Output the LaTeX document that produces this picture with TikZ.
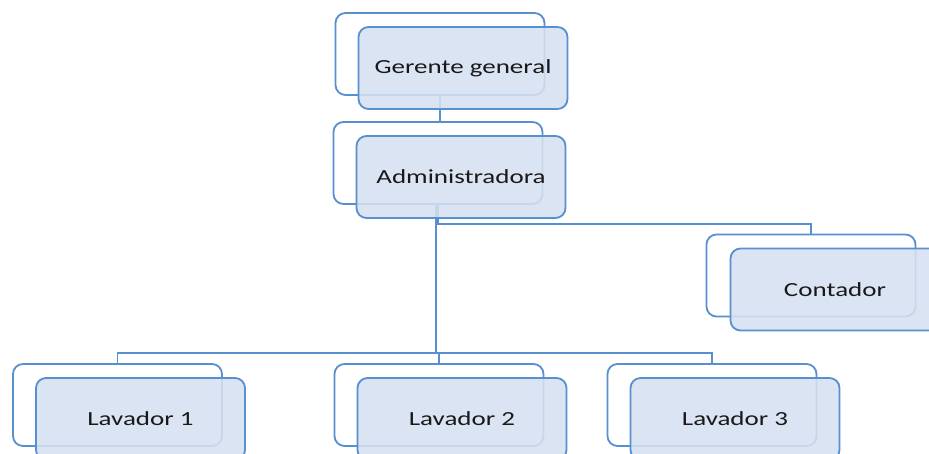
\documentclass[tikz,border=0pt]{standalone}
\usepackage{fontspec}
\setmainfont{Carlito}
\usetikzlibrary{calc}
\usetikzlibrary{positioning}

\definecolor{borde}{RGB}{88,143,206}
\definecolor{relleno}{RGB}{214,224,240}
\newcommand{\ancho}[1]{\scalebox{1.35}[1]{#1}}

\begin{document}
\begin{tikzpicture}[x=1pt, y=-1pt,
  fondo/.style = {draw=borde, line width=1.8pt, rounded corners=10pt,
    minimum width=209pt, minimum height=82pt, inner sep=0pt},
  cargo/.style = {fondo, fill=relleno, fill opacity=0.88, text opacity=1,
    text=black!90, font=\fontsize{20}{24}\selectfont},
  linea/.style = {draw=borde, line width=1.8pt}]

  % Margenes del dibujo
  \useasboundingbox (0,0) rectangle (929,454);
  \clip (0,0) rectangle (929,454);

  % Recuadros de fondo
  \node[fondo] (gerb) at (440,54) {};
  \node[fondo] (admb) at (438,163) {};
  \node[fondo] (contb) at (811,275.5) {};
  \node[fondo] (lav1b) at (117.5,405) {};
  \node[fondo] (lav2b) at (439,405) {};
  \node[fondo] (lav3b) at (712,405) {};

  % Conexiones
  \draw[linea] (gerb.south) -- (gerb.south |- admb.north);
  \draw[linea] (admb.south) -- ++(0,19) -| (contb.north);
  \draw[linea] ([xshift=-2pt]admb.south) -- ++(0,148) -| (lav1b.north);
  \draw[linea] ([xshift=-2pt]admb.south) -- ++(0,148) -| (lav2b.north);
  \draw[linea] ([xshift=-2pt]admb.south) -- ++(0,148) -| (lav3b.north);

  % Recuadros con los cargos
  \node[cargo] (gerente) at ($(gerb)+(23,14)$) {\ancho{Gerente general}};
  \node[cargo] (admin) at ($(admb)+(23,14)$) {\ancho{Administradora}};
  \node[cargo] (contador) at ($(contb)+(24,14)$) {\ancho{Contador}};
  \node[cargo] (lav1) at ($(lav1b)+(23,14)$) {\ancho{Lavador 1}};
  \node[cargo] (lav2) at ($(lav2b)+(23,14)$) {\ancho{Lavador 2}};
  \node[cargo] (lav3) at ($(lav3b)+(23,14)$) {\ancho{Lavador 3}};
\end{tikzpicture}
\end{document}
